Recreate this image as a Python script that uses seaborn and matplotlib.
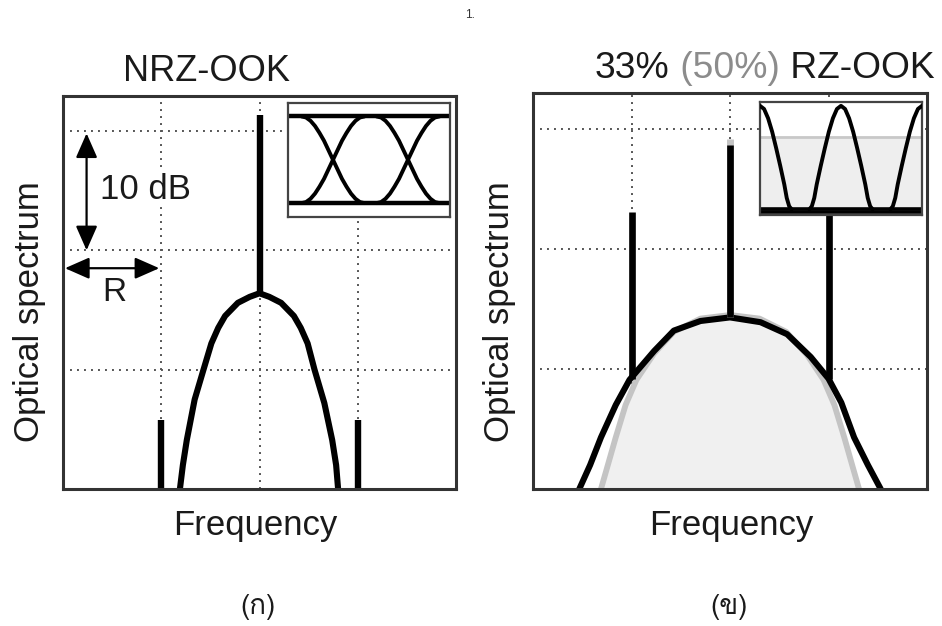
import numpy as np
import pandas as pd
import matplotlib
matplotlib.use("Agg")
import matplotlib.pyplot as plt
import seaborn as sns
from matplotlib import font_manager
from matplotlib.ft2font import FT2Font
from matplotlib.patches import FancyArrowPatch
from matplotlib.text import Annotation

# ---------------- data ----------------
# Frequency axis in units of R, level in dB (grid every 10 dB)
nrz_cont_x = [-0.81, -0.78, -0.74, -0.66, -0.57, -0.49, -0.42, -0.35, -0.22, -0.10, 0.0,
              0.10, 0.22, 0.35, 0.42, 0.49, 0.56, 0.66, 0.74, 0.78, 0.80]
nrz_cont_y = [-30.0, -28.0, -25.9, -22.5, -20.0, -17.8, -16.5, -15.5, -14.4, -13.9, -13.6,
              -13.9, -14.4, -15.5, -16.5, -17.8, -20.0, -22.8, -25.9, -28.0, -30.0]
nrz_tone_x = [-1.0, 0.0, 1.0]
nrz_tone_top = [-24.2, 1.3, -24.2]
nrz_tone_base = [-30.0, -13.6, -30.0]

rz33_x = [-1.53, -1.42, -1.31, -1.16, -1.02, -0.77, -0.57, -0.30, 0.0,
          0.31, 0.58, 0.82, 1.00, 1.13, 1.26, 1.40, 1.53]
rz33_y = [-30.0, -28.0, -25.7, -23.0, -20.9, -18.5, -16.8, -16.0, -15.7,
          -16.1, -17.1, -19.0, -20.8, -22.8, -25.7, -28.0, -30.0]
rz50_x = [-1.31, -1.24, -1.16, -1.06, -0.95, -0.77, -0.57, -0.30, 0.0,
          0.30, 0.57, 0.78, 0.95, 1.06, 1.16, 1.24, 1.31]
rz50_y = [-30.0, -28.0, -25.7, -23.0, -20.9, -18.7, -16.9, -15.8, -15.5,
          -15.8, -16.9, -18.8, -20.9, -23.0, -25.7, -28.0, -30.0]
rz_tone_x = [-1.0, 0.0, 1.0]
rz33_tone_top = [-6.9, -1.3, -6.9]
rz33_tone_base = [-20.8, -15.7, -20.8]
rz50_tone_top = [-0.8]

# NRZ eye diagram: one transition profile around a crossing (bit periods)
eye_s = [-0.42, -0.36, -0.30, -0.24, -0.18, -0.12, -0.06, 0.0,
         0.06, 0.12, 0.18, 0.24, 0.30, 0.36, 0.42]
eye_rise = [0.0, 0.012, 0.05, 0.11, 0.19, 0.28, 0.39, 0.5,
            0.61, 0.72, 0.81, 0.89, 0.95, 0.988, 1.0]
eye_cross = [0.5, 1.5]

# RZ eye: one pulse profile around its peak (bit periods)
pulse_s = [-0.39, -0.36, -0.33, -0.30, -0.25, -0.20, -0.15, -0.10, -0.05, 0.0,
           0.05, 0.10, 0.15, 0.20, 0.25, 0.30, 0.33, 0.36, 0.39]
pulse_y = [0.0, 0.03, 0.11, 0.24, 0.42, 0.59, 0.75, 0.88, 0.97, 1.0,
           0.97, 0.88, 0.75, 0.59, 0.42, 0.24, 0.11, 0.03, 0.0]
pulse_peaks = [0.0, 1.0, 2.0]
rz50_eye_level = 0.70

grid_x = [-1, 0, 1]
grid_y = [-20, -10, 0]

# ---------------- style ----------------
sns.set_theme(style="white")
plt.rcParams["font.family"] = ["Liberation Sans", "DejaVu Sans"]

thai_font = None
for f in font_manager.fontManager.ttflist:
    try:
        cmap = FT2Font(f.fname).get_charmap()
        if 0x0E01 in cmap and 0x0E02 in cmap:
            thai_font = f.name
            break
    except Exception:
        pass
thai_family = [thai_font, "DejaVu Sans"] if thai_font else ["DejaVu Sans"]

W, H = 942, 626
fig = plt.figure(figsize=(W / 100, H / 100), dpi=100)
fig.patch.set_facecolor("white")


def fx(px):
    return px / W


def fy(py):
    return 1 - py / H


TXT = "#1a1a1a"
GRID_KW = dict(color="#555555", lw=1.4, ls=(0, (1, 2.6)), zorder=1)


def setup_main(ax, ylim):
    ax.set_xlim(-2, 2)
    ax.set_ylim(*ylim)
    ax.set_xticks([])
    ax.set_yticks([])
    for gx in grid_x:
        ax.axvline(gx, **GRID_KW)
    for gy in grid_y:
        ax.axhline(gy, **GRID_KW)
    for sp in ax.spines.values():
        sp.set_color("#333333")
        sp.set_linewidth(2.2)
        sp.set_zorder(10)


# ---------------- left panel: NRZ ----------------
axL = fig.add_axes([fx(63), fy(489), fx(393), 393 / H])
setup_main(axL, (-30, 2.93))
sns.lineplot(x=nrz_cont_x, y=nrz_cont_y, ax=axL, color="black", lw=4.4,
             sort=False, estimator=None, zorder=4)
axL.vlines(nrz_tone_x, nrz_tone_base, nrz_tone_top, colors="black",
           lw=4.6, zorder=5)

arr_kw = dict(arrowstyle="<|-|>,head_length=0.75,head_width=0.33",
              mutation_scale=20, color="black", lw=1.6, zorder=6,
              shrinkA=0, shrinkB=0)
axL.add_patch(FancyArrowPatch((-1.76, -0.2), (-1.76, -10.0), **arr_kw))
axL.add_patch(FancyArrowPatch((-1.98, -11.5), (-1.02, -11.5), **arr_kw))
axL.text(-1.62, -4.9, "10 dB", fontsize=25, color=TXT, ha="left",
         va="center", zorder=7,
         bbox=dict(facecolor="white", edgecolor="none", pad=1))
axL.text(-1.48, -13.5, "R", fontsize=24, color=TXT, ha="center",
         va="center", zorder=7)

# NRZ eye inset
inL = fig.add_axes([fx(288), fy(217), fx(162), 114 / H])
inL.set_xlim(-0.1, 2.06)
inL.set_ylim(-0.16, 1.155)
inL.set_xticks([])
inL.set_yticks([])
inL.set_facecolor("white")
for sp in inL.spines.values():
    sp.set_color("#444444")
    sp.set_linewidth(1.6)
inL.axhline(0, color="black", lw=3.2)
inL.axhline(1, color="black", lw=3.2)
for c in eye_cross:
    xs = [c + s for s in eye_s]
    sns.lineplot(x=xs, y=eye_rise, ax=inL, color="black", lw=2.8,
                 sort=False, estimator=None)
    sns.lineplot(x=xs, y=[1 - v for v in eye_rise], ax=inL, color="black",
                 lw=2.8, sort=False, estimator=None)

# ---------------- right panel: RZ ----------------
axR = fig.add_axes([fx(533), fy(489), fx(394), 396 / H])
setup_main(axR, (-30, 3.0))
axR.fill_between(rz50_x, rz50_y, -30, color="#f0f0f0", zorder=2, lw=0)
sns.lineplot(x=rz50_x, y=rz50_y, ax=axR, color="#c4c4c4", lw=4.2,
             sort=False, estimator=None, zorder=3)
sns.lineplot(x=rz33_x, y=rz33_y, ax=axR, color="black", lw=4.4,
             sort=False, estimator=None, zorder=4)
axR.vlines([0.0], [-15.7], rz50_tone_top, colors="#c4c4c4", lw=5.0, zorder=4)
axR.vlines(rz_tone_x, rz33_tone_base, rz33_tone_top, colors="black",
           lw=4.8, zorder=5)

# RZ eye inset
inR = fig.add_axes([fx(760), fy(215), fx(162), 113.5 / H])
inR.set_xlim(0, 2)
inR.set_ylim(-0.055, 1.042)
inR.set_xticks([])
inR.set_yticks([])
inR.set_facecolor("white")
for sp in inR.spines.values():
    sp.set_color("#444444")
    sp.set_linewidth(1.6)
inR.axhspan(-0.055, rz50_eye_level, color="#eeeeee", lw=0, zorder=0)
inR.axhline(rz50_eye_level, color="#c8c8c8", lw=2.0, zorder=1)
inR.axhline(0, color="black", lw=2.6, zorder=2)
inR.axhline(-0.025, color="black", lw=2.6, zorder=2)
for p in pulse_peaks:
    sns.lineplot(x=[p + s for s in pulse_s], y=pulse_y, ax=inR,
                 color="black", lw=2.8, sort=False, estimator=None, zorder=3)

# ---------------- texts ----------------
fig.text(fx(207), fy(81), "NRZ-OOK", fontsize=26, color=TXT,
         ha="center", va="baseline")
t1 = fig.text(fx(595), fy(78), "33%", fontsize=26.8, color=TXT,
              ha="left", va="baseline")
a2 = fig.add_artist(Annotation(
    " (50%)", xy=(1, 0), xycoords=t1, fontsize=26.8, color="#8c8c8c",
    ha="left", va="bottom"))
a3 = fig.add_artist(Annotation(
    " RZ-OOK", xy=(1, 0), xycoords=a2, fontsize=26.8, color=TXT,
    ha="left", va="bottom"))

for xc in (30, 500):
    fig.text(fx(xc), fy(312), "Optical spectrum", fontsize=25, color=TXT,
             rotation=90, ha="center", va="center")
for xc in (255, 731):
    fig.text(fx(xc), fy(535), "Frequency", fontsize=25, color=TXT,
             ha="center", va="baseline")

fig.text(fx(258), fy(607), "(ก)", fontsize=20, color=TXT, ha="center",
         va="center", family=thai_family)
fig.text(fx(729), fy(607), "(ข)", fontsize=20, color=TXT, ha="center",
         va="center", family=thai_family)
fig.text(fx(470), fy(15), "1.", fontsize=8.5, color="#333333", ha="center",
         va="center")

fig.savefig("out.png", dpi=100, facecolor="white")
